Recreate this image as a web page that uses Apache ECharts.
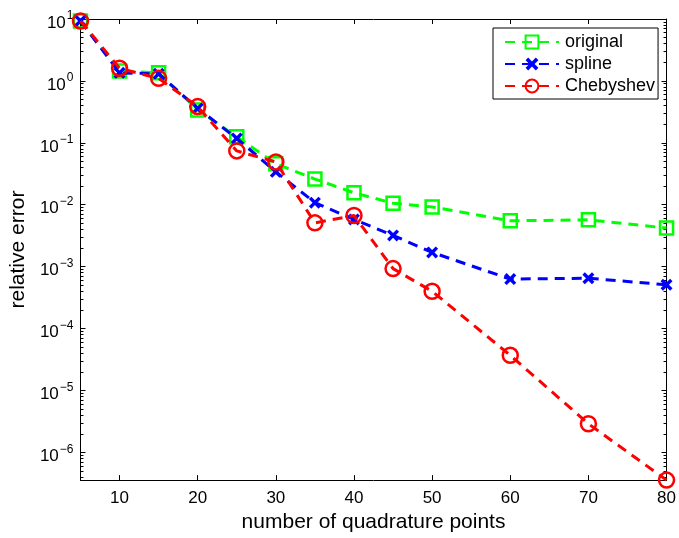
<!DOCTYPE html>
<html><head><meta charset="utf-8">
<script src="https://cdn.jsdelivr.net/npm/echarts@6/dist/echarts.min.js"></script>
<style>html,body{margin:0;padding:0;background:#fff}#c{width:679px;height:538px}</style>
</head><body><div id="c"></div>
<script>
var points = [5,10,15,20,25,30,35,40,45,50,60,70,80];
var original = [9.3,1.45,1.35,0.34,0.125,0.046,0.026,0.0156,0.0106,0.0092,0.0055,0.0057,0.0042];
var spline = [9.3,1.35,1.3,0.36,0.118,0.034,0.0108,0.0058,0.0032,0.0017,0.00063,0.00065,0.00051];
var chebyshev = [9.3,1.6,1.1,0.385,0.074,0.049,0.0051,0.0067,0.00093,0.0004,3.7e-5,2.9e-6,3.57e-7];
var xTicks = [10,20,30,40,50,60,70,80];
var yExponents = [-6,-5,-4,-3,-2,-1,0,1];
var yMin = 3.57e-7, yMax = 10;

var yMajors = yExponents.map(function(e){return Math.pow(10,e);});
var yMinors = [];
for (var e=-7;e<=0;e++){for (var k=2;k<=9;k++){var v=k*Math.pow(10,e); if(v>=yMin&&v<=yMax) yMinors.push(v);}}

var font = 'Liberation Sans, Arial, Helvetica, sans-serif';
function zip(vals){return points.map(function(p,i){return [p, vals[i]];});}
var xMarker = 'path://M0,2L2,0L5,3L8,0L10,2L7,5L10,8L8,10L5,7L2,10L0,8L3,5Z';

function yAxis(pos, ticks, len, showLine, showLabel){
  return {type:'log', position:pos, min:yMin, max:yMax, logBase:10,
    axisLine:{show:showLine, lineStyle:{color:'#000', width:1}},
    axisTick:{show:true, inside:true, length:len, customValues:ticks, lineStyle:{color:'#000', width:1}},
    axisLabel:{show:showLabel, customValues:yMajors, margin:7, fontFamily:font,
      formatter:function(v){var ex=Math.round(Math.log10(v)); return '{b|10}{s|'+(ex<0?'\u2212'+(-ex):ex)+'}';},
      rich:{b:{fontSize:17, fontFamily:font, color:'#000', padding:[8,0,0,0]}, s:{fontSize:12, fontFamily:font, color:'#000', padding:[0,0,6,1]}}},
    splitLine:{show:false}, minorTick:{show:false}
  };
}

var chart = echarts.init(document.getElementById('c'));
chart.setOption({
  backgroundColor:'#fff',
  animation:false,
  grid:{left:80, right:12, top:19, bottom:57},
  legend:{
    orient:'vertical', left:493, top:28,
    backgroundColor:'#fff', borderColor:'#000', borderWidth:1,
    padding:[5,3,4,11], itemGap:4, itemWidth:54, itemHeight:16,
    textStyle:{fontSize:18, fontFamily:font, color:'#000', padding:[0,0,0,1]},
    data:['original','spline','Chebyshev']
  },
  xAxis:[
    {type:'value', min:5, max:80, position:'bottom',
     name:'number of quadrature points', nameLocation:'middle', nameGap:31,
     nameTextStyle:{fontSize:21, fontFamily:font, color:'#000'},
     axisLine:{lineStyle:{color:'#000', width:1}},
     axisTick:{inside:true, length:5, customValues:xTicks, lineStyle:{color:'#000'}},
     axisLabel:{customValues:xTicks, fontSize:17, fontFamily:font, color:'#000', margin:10},
     splitLine:{show:false}},
    {type:'value', min:5, max:80, position:'top',
     axisLine:{lineStyle:{color:'#000', width:1}},
     axisTick:{inside:true, length:5, customValues:xTicks, lineStyle:{color:'#000'}},
     axisLabel:{show:false}, splitLine:{show:false}}
  ],
  yAxis:[
    (function(){var a=yAxis('left', yMajors, 5, true, true); a.name='relative error'; a.nameLocation='middle'; a.nameGap=45; a.nameTextStyle={fontSize:21, fontFamily:font, color:'#000'}; return a;})(),
    yAxis('left', yMinors, 3, false, false),
    yAxis('right', yMajors, 5, true, false),
    yAxis('right', yMinors, 3, false, false)
  ],
  series:[
    {name:'original', type:'line', data:zip(original), symbol:'rect', symbolSize:13,
     lineStyle:{color:'#00ff00', width:3, type:[10,7]},
     itemStyle:{color:'rgba(0,0,0,0)', borderColor:'#00ff00', borderWidth:2.5}, z:2},
    {name:'spline', type:'line', data:zip(spline), symbol:xMarker, symbolSize:12,
     lineStyle:{color:'#0000ff', width:3, type:[10,7]},
     itemStyle:{color:'#0000ff', borderWidth:0}, z:3},
    {name:'Chebyshev', type:'line', data:zip(chebyshev), symbol:'circle', symbolSize:15,
     lineStyle:{color:'#ff0000', width:3, type:[10,7]},
     itemStyle:{color:'rgba(0,0,0,0)', borderColor:'#ff0000', borderWidth:2.5}, z:4}
  ]
});
</script></body></html>
